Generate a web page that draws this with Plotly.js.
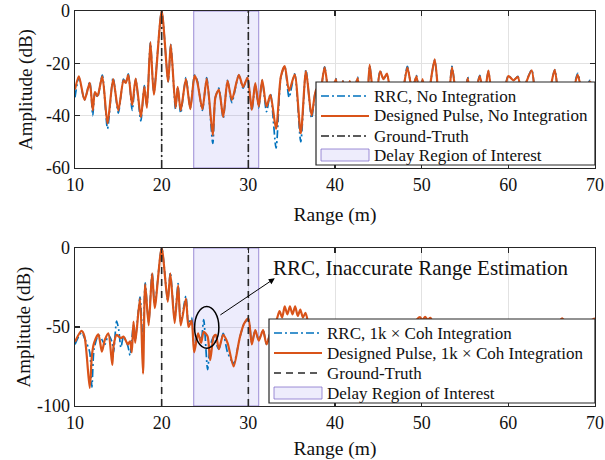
<!DOCTYPE html>
<html>
<head>
<meta charset="utf-8">
<script src="https://cdn.plot.ly/plotly-3.0.1.min.js"></script>
<style>html,body{margin:0;padding:0;background:#fff;}#chart{width:605px;height:460px;}</style>
</head>
<body>
<div id="chart"></div>
<script>
// ---------- data ----------
const xTicks = [10, 20, 30, 40, 50, 60, 70];
const topYTicks = [0, -20, -40, -60];
const botYTicks = [0, -50, -100];
const topYRange = [-60, 0];
const botYRange = [-100, 0];
const xRange = [10, 70];
const groundTruth = [20, 30];
const roiRange = [23.7, 31.2];

const topRange = [10.0,10.45,11.1,11.7,12.05,12.3,12.6,13.15,13.75,14.4,15.0,15.6,15.85,16.15,16.6,17.0,17.6,18.0,18.3,18.7,19.1,20.0,
  20.75,21.05,21.6,21.85,22.2,22.8,23.3,23.8,24.1,24.7,25.2,25.9,26.2,26.6,27.1,27.6,28.1,28.9,29.4,29.9,30.4,30.8,31.2,31.6,32.1,32.55,
  33.2,33.75,34.2,34.7,35.35,36.05,36.65,37.3,37.8,38.2,38.8,39.4,40.1,40.5,40.9,41.3,41.7,42.1,42.6,43.1,43.4,43.7,44.0,44.6,45.2,45.6,
  46.0,46.5,47.0,47.5,48.35,48.9,49.4,49.8,50.1,50.6,51.5,52.1,52.6,53.0,53.5,54.2,54.7,55.0,55.3,55.9,56.7,57.2,57.7,58.3,58.8,59.3,
  60.0,60.6,61.1,61.6,62.1,62.7,63.3,63.9,64.4,65.35,66.0,66.6,67.1,68.0,68.7,69.4,70.0];
const topDesigned = [-30,-25,-34,-27.5,-38,-31,-32.5,-25,-43,-26,-38,-26.5,-27.5,-24.5,-36,-25.8,-40.5,-29,-37,-12,-32,0,
  -27,-12.8,-37,-29,-38,-26,-37.5,-24.7,-27,-37.5,-25.8,-47.5,-33,-30,-40.5,-26.7,-34,-24.4,-29,-25.5,-37.8,-27.6,-36.5,-26.3,-36.5,-32,
  -45,-25.1,-21.1,-30.5,-24.3,-46.7,-23,-40,-30,-33,-21.5,-34,-26,-36,-26.8,-33,-26.8,-33,-25.6,-36,-30,-35,-20.6,-38,-23.1,-26,
  -23.9,-33,-28,-37,-21.6,-30,-25,-34,-26,-35,-18.5,-36,-30,-38,-21.5,-37,-31,-35,-25.6,-36,-24.9,-33,-22.8,-38,-30,-34,
  -24.9,-26.5,-25.2,-33,-27,-22.7,-37,-30,-36,-22.5,-38,-30,-36,-24.4,-34,-27,-30];
const topRRC = [-33,-25.5,-34,-27,-40,-31,-33,-24.5,-45,-25.5,-39,-26,-27.5,-24,-38,-26,-42,-28.5,-36,-12,-31,0,
  -27,-12.8,-37.5,-29,-39,-25.5,-37,-24.5,-26.5,-38,-25.5,-50.6,-33,-29.5,-41,-26.5,-35,-24.5,-29.5,-25.5,-38,-28,-37,-26.5,-38.5,-31.5,
  -52.4,-25.5,-21,-33,-24,-50,-22.5,-41,-30,-33,-21.3,-34,-25.8,-36,-26.5,-34,-27,-33,-25.3,-37,-30,-35,-20.8,-39,-22.8,-26,
  -24.3,-33,-28,-38,-21.2,-30,-24.7,-34,-26,-35,-18.8,-36,-30,-38,-21.2,-37,-31,-35,-25.2,-36,-24.6,-33,-23,-38,-30,-34,
  -24.7,-26.5,-25,-33,-26.8,-22.5,-37,-30,-36,-22.5,-38,-30,-36,-23.8,-34,-26.5,-30];

const botRange = [10.0,10.75,11.1,11.7,11.95,12.2,12.7,13.1,13.45,13.85,14.3,14.45,14.8,15.05,15.3,15.6,16.1,16.35,16.55,16.75,16.95,
  17.5,17.85,18.1,18.5,18.9,19.2,20.0,20.7,21.0,21.5,21.9,22.2,22.8,23.1,23.45,23.75,24.2,24.55,24.85,25.3,25.6,26.0,26.25,26.6,27.1,
  27.6,28.3,29.0,29.5,30.0,30.4,30.8,31.2,31.7,32.1,32.6,33.25,33.6,33.9,34.2,34.5,34.8,35.1,35.4,35.7,36.0,36.3,36.6,37.0,37.6,38.5,
  39.5,40.5,41.5,42.5,43.5,44.5,45.5,46.5,47.5,48.5,49.2,49.5,49.8,50.1,50.4,50.7,51.0,51.3,52.0,53.0,54.0,55.0,56.0,57.0,58.0,59.0,
  60.0,61.0,62.0,63.0,64.0,65.0,65.8,66.2,66.6,67.5,68.5,69.5,70.0];
const botDesigned = [-59.3,-52.5,-56,-88.5,-68,-60,-54.6,-65.6,-58,-54,-74,-62,-55,-56,-57,-56,-61,-59,-66,-46.6,-60,
  -32,-79.5,-23,-49,-16,-38,0,-34,-16,-47.5,-23.6,-49,-32,-50,-46,-66,-54,-60,-53,-56,-71,-56,-55,-64,-55,
  -60,-75,-57,-48,-44.5,-61,-52,-58.6,-52,-61,-53,-45.6,-40,-44,-37,-42,-37,-42,-37,-43,-39,-44,-41,-50,-60,-55,
  -62,-56,-64,-57,-62,-56,-60,-55,-63,-52,-48,-45,-43.8,-45.5,-43.5,-45.5,-44.2,-47,-58,-54,-62,-55,-63,-56,-61,-54,
  -60,-55,-62,-53,-60,-52,-47,-44.5,-47,-55,-50,-46,-44.5];
const botRRC = [-61,-53.5,-57,-66,-88,-64,-55,-58,-61,-55,-60,-66,-46.2,-52,-63,-56,-62,-68,-58,-49,-58,
  -31,-62,-22,-47,-15.5,-36,0,-33,-15.5,-45,-22.5,-47,-30.5,-48,-44,-62,-55,-58,-45.3,-77,-62,-56,-60,-64,-54,
  -66,-73,-57,-48,-45,-60,-52,-58,-52,-61,-53,-52,-56,-60,-55,-58,-54,-60,-55,-58,-54,-60,-56,-62,-58,-65,
  -60,-58,-66,-60,-64,-60,-62,-58,-64,-57,-56,-55,-57,-55,-58,-56,-60,-57,-62,-60,-64,-58,-66,-60,-63,-58,
  -62,-59,-64,-58,-62,-56,-55,-57,-56,-60,-58,-56,-55];

const topLabels = ['RRC, No Integration', 'Designed Pulse, No Integration', 'Ground-Truth', 'Delay Region of Interest'];
const botLabels = ['RRC, 1k \u00d7 Coh Integration', 'Designed Pulse, 1k \u00d7 Coh Integration', 'Ground-Truth', 'Delay Region of Interest'];
const calloutText = 'RRC, Inaccurate Range Estimation';
const calloutEllipseX = [23.8, 26.6];
const calloutEllipseY = [-37, -63.5];
const calloutTail = [26.6, -43];
const calloutHead = [33.05, -19.2];
const calloutTextPos = [32.7, -12.7];

// ---------- styles / layout geometry (pixels) ----------
const W = 605, H = 460;
const M = {l: 75, r: 10, t: 11, b: 54};
const PW = W - M.l - M.r, PH = H - M.t - M.b;
const BLUE = '#0072BD', ORANGE = '#D95319', GT = '#262626', TXT = '#111';
const FONT = 'Liberation Serif, Times New Roman, Times, serif';
const ROI_FILL = 'rgba(110,100,230,0.12)', ROI_LINE = 'rgba(125,105,200,0.75)';
const DASHDOT = '8px,3px,2px,3px';
const GTDASH_BOT = '7px,5px';

const legendSpecs = [
  {box: [316, 82, 595, 165], rows: [96, 116, 136, 155], sample: [321, 369], textX: 373, labels: topLabels, gtDash: DASHDOT},
  {box: [269, 319, 595, 403], rows: [333, 353, 373, 393], sample: [274, 322], textX: 326, labels: botLabels, gtDash: GTDASH_BOT}
];
const px = v => (v - M.l) / PW;
const py = v => (H - M.b - v) / PH;

function gtXY(yr) {
  const x = [], y = [];
  groundTruth.forEach(g => { x.push(g, g, null); y.push(yr[0], yr[1], null); });
  return {x, y};
}
function roiXY(yr) {
  return {x: [roiRange[0], roiRange[1], roiRange[1], roiRange[0], roiRange[0]],
          y: [yr[0], yr[0], yr[1], yr[1], yr[0]]};
}

const traces = [];
function addPanel(xa, ya, yr, rx, rrc, des, labels, gtDash) {
  const r = roiXY(yr);
  traces.push({x: r.x, y: r.y, xaxis: xa, yaxis: ya, type: 'scatter', mode: 'lines', fill: 'toself',
    fillcolor: ROI_FILL, line: {color: ROI_LINE, width: 1}, name: labels[3], hoverinfo: 'skip'});
  traces.push({x: rx, y: rrc, xaxis: xa, yaxis: ya, type: 'scatter', mode: 'lines',
    line: {color: BLUE, width: 1.7, dash: DASHDOT, shape: 'spline', smoothing: 0.7}, name: labels[0]});
  traces.push({x: rx, y: des, xaxis: xa, yaxis: ya, type: 'scatter', mode: 'lines',
    line: {color: ORANGE, width: 2.2, shape: 'spline', smoothing: 0.7}, name: labels[1]});
  const g = gtXY(yr);
  traces.push({x: g.x, y: g.y, xaxis: xa, yaxis: ya, type: 'scatter', mode: 'lines',
    line: {color: GT, width: 1.6, dash: gtDash}, name: labels[2]});
}
addPanel('x', 'y', topYRange, topRange, topRRC, topDesigned, topLabels, DASHDOT);
addPanel('x2', 'y2', botYRange, botRange, botRRC, botDesigned, botLabels, GTDASH_BOT);

const axisCommon = {
  showline: true, mirror: 'ticks', linecolor: GT, linewidth: 1.3,
  ticks: 'inside', ticklen: 5, tickwidth: 1.2, tickcolor: GT,
  showgrid: true, gridcolor: '#e2e2e2', gridwidth: 1, zeroline: false,
  tickfont: {family: FONT, size: 18, color: TXT}
};
function xAx(anchor) {
  return Object.assign({}, axisCommon, {anchor: anchor, domain: [0, 1], range: xRange, tickvals: xTicks,
    ticktext: xTicks.map(String), title: {text: 'Range (m)', font: {family: FONT, size: 19.5, color: TXT}, standoff: 13}});
}
function yAx(anchor, domain, range, ticks, standoff) {
  return Object.assign({}, axisCommon, {anchor: anchor, domain: domain, range: range, tickvals: ticks,
    ticktext: ticks.map(String), title: {text: 'Amplitude (dB)', font: {family: FONT, size: 19, color: TXT}, standoff: standoff}});
}

// legend boxes, sample lines and labels drawn above the plot area
const shapes = [{type: 'circle', xref: 'x2', yref: 'y2', x0: calloutEllipseX[0], x1: calloutEllipseX[1],
  y0: calloutEllipseY[0], y1: calloutEllipseY[1], line: {color: '#000', width: 1.5}, layer: 'above'}];
const annotations = [
  {xref: 'x2', yref: 'y2', axref: 'x2', ayref: 'y2', x: calloutHead[0], y: calloutHead[1],
   ax: calloutTail[0], ay: calloutTail[1], text: '', showarrow: true, arrowhead: 2, arrowsize: 1.2,
   arrowwidth: 1, arrowcolor: '#000'},
  {xref: 'x2', yref: 'y2', x: calloutTextPos[0], y: calloutTextPos[1], xanchor: 'left', yanchor: 'middle',
   text: calloutText, showarrow: false, borderpad: 0, font: {family: FONT, size: 21, color: TXT}}
];
legendSpecs.forEach(s => {
  shapes.push({type: 'rect', xref: 'paper', yref: 'paper', x0: px(s.box[0]), x1: px(s.box[2]), y0: py(s.box[3]), y1: py(s.box[1]),
    fillcolor: '#fff', line: {color: GT, width: 1.2}, layer: 'above'});
  const styles = [{color: BLUE, width: 1.7, dash: DASHDOT}, {color: ORANGE, width: 2.2, dash: 'solid'}, {color: GT, width: 1.6, dash: s.gtDash}];
  styles.forEach((st, i) => {
    shapes.push({type: 'line', xref: 'paper', yref: 'paper', x0: px(s.sample[0]), x1: px(s.sample[1]),
      y0: py(s.rows[i]), y1: py(s.rows[i]), line: st, layer: 'above'});
  });
  shapes.push({type: 'rect', xref: 'paper', yref: 'paper', x0: px(s.sample[0]), x1: px(s.sample[1]),
    y0: py(s.rows[3] + 6), y1: py(s.rows[3] - 6), fillcolor: 'rgb(238,237,252)', line: {color: ROI_LINE, width: 1}, layer: 'above'});
  s.labels.forEach((lab, i) => {
    annotations.push({xref: 'paper', yref: 'paper', x: px(s.textX), y: py(s.rows[i]), xanchor: 'left', yanchor: 'middle',
      text: lab, showarrow: false, borderpad: 0, font: {family: FONT, size: 17, color: TXT}});
  });
});

const layout = {
  width: W, height: H, margin: M,
  paper_bgcolor: '#fff', plot_bgcolor: '#fff',
  font: {family: FONT, size: 16, color: TXT},
  showlegend: false,
  xaxis: xAx('y'),
  yaxis: yAx('x', [py(168), 1], topYRange, topYTicks, 8),
  xaxis2: xAx('y2'),
  yaxis2: yAx('x2', [0, py(248)], botYRange, botYTicks, 1),
  shapes: shapes,
  annotations: annotations
};

Plotly.newPlot('chart', traces, layout, {staticPlot: true, displayModeBar: false});
</script>
</body>
</html>
